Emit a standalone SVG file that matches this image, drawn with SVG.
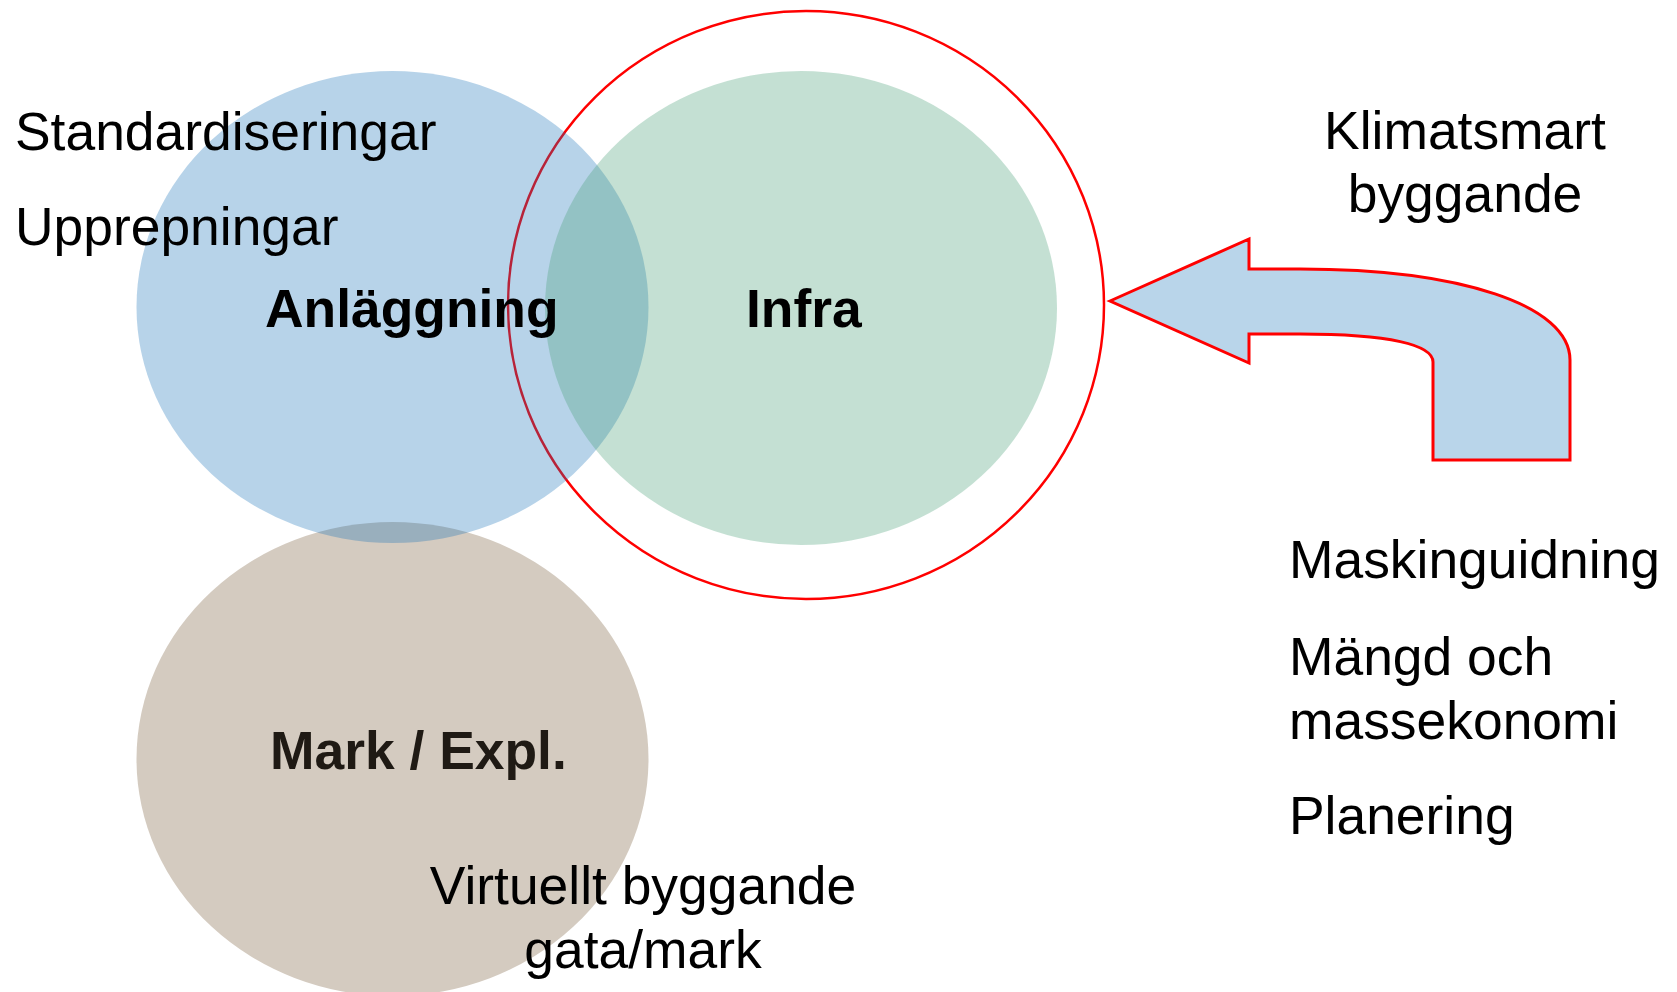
<svg xmlns="http://www.w3.org/2000/svg" width="1677" height="992" viewBox="0 0 1677 992">
<style>
.t{font-family:"Liberation Sans",Arial,sans-serif;font-size:53.4px;fill:#000}
.b{font-weight:bold}
</style>
<rect width="1677" height="992" fill="#fff"/>
<g id="mark">
<ellipse cx="392.5" cy="759" rx="256" ry="237" fill="#D4CBC0"/>
</g>
<g id="infra-ring">
<ellipse cx="806" cy="305" rx="298" ry="294" fill="none" stroke="#FF0000" stroke-width="2.5"/>
</g>
<g id="anlaggning">
<ellipse cx="392.5" cy="307" rx="256" ry="236" fill="#1771B8" fill-opacity="0.31"/>
</g>
<g id="infra">
<ellipse cx="801" cy="308" rx="256" ry="237" fill="#479E76" fill-opacity="0.32"/>
</g>
<g id="connectors">
<path d="M1110,301 L1249,239 L1249,269 L1300,269 C1460,269 1570,305 1570,360 L1570,460 L1433,460 L1433,362 C1433,345 1390,334 1300,334 L1249,334 L1249,363 Z" fill="#B9D5EA" stroke="#FF0000" stroke-width="3" stroke-linejoin="miter"/>
</g>
<g id="labels">
<text class="t" x="15" y="150">Standardiseringar</text>
<text class="t" x="15" y="245">Upprepningar</text>
<text class="t b" x="265" y="327">Anläggning</text>
<text class="t b" x="746" y="327">Infra</text>
<text class="t b" x="270" y="769" style="fill:#1F1A14">Mark / Expl.</text>
<text class="t" x="643" y="904" text-anchor="middle">Virtuellt byggande</text>
<text class="t" x="643" y="968" text-anchor="middle">gata/mark</text>
<text class="t" x="1465" y="149" text-anchor="middle">Klimatsmart</text>
<text class="t" x="1465" y="212" text-anchor="middle">byggande</text>
<text class="t" x="1289" y="578">Maskinguidning</text>
<text class="t" x="1289" y="675">Mängd och</text>
<text class="t" x="1289" y="739">massekonomi</text>
<text class="t" x="1289" y="834">Planering</text>
</g>
</svg>
